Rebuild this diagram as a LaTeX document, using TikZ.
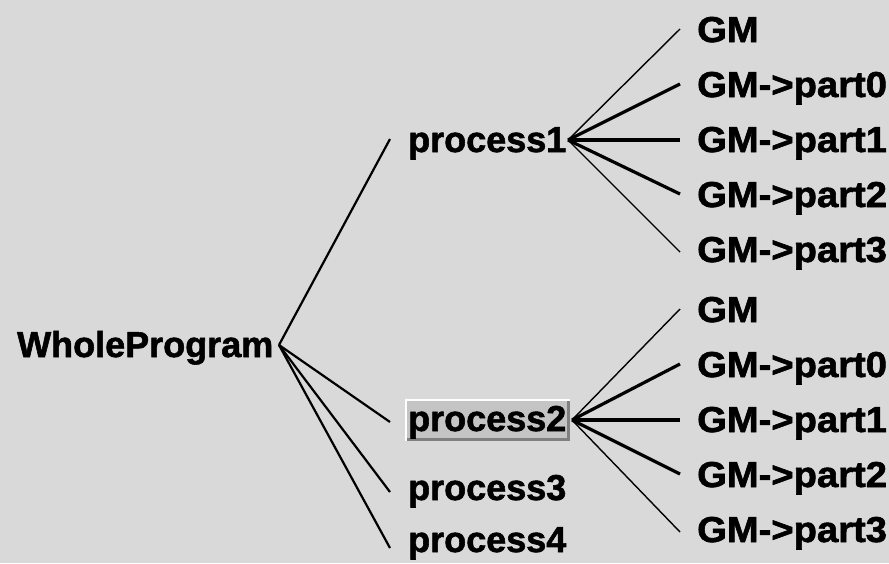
\documentclass[tikz,border=0pt]{standalone}
\usepackage{fontspec}
\setmainfont{Liberation Sans}
\newfontfamily\treefont{Liberation Sans Bold}[FakeBold=1.6]
\definecolor{bg}{RGB}{217,217,217}
\definecolor{selfill}{RGB}{196,196,196}
\definecolor{selshade}{RGB}{128,128,128}
\newcommand\leafwide[1]{\scalebox{1.06}[1]{#1}}
\begin{document}
\begin{tikzpicture}[x=1pt,y=-1pt,
  lbl/.style={anchor=base west, inner sep=0pt, font=\fontsize{36}{40}\treefont},
  leaf/.style={lbl},
  link/.style={line width=2.2pt},
  thinlink/.style={line width=1.4pt},
  thicklink/.style={line width=3.2pt}]
\fill[bg] (0,0) rectangle (889,563);
\useasboundingbox (0,0) rectangle (889,563);

% selection frame behind process2
\fill[white] (405,399) rectangle (570,441);
\fill[selshade] (407,401) rectangle (570,441);
\fill[selfill] (407,401) rectangle (567,438);

% tree nodes
\node[lbl] (wp) at (17,357) {WholeProgram};
\node[lbl] (p1) at (408,152) {process1};
\node[lbl] (p2) at (408,431) {process2};
\node[lbl] (p3) at (408,500) {process3};
\node[lbl] (p4) at (408,552) {process4};

\node[leaf] (a0) at (697,42)  {\leafwide{GM}};
\node[leaf] (a1) at (697,97)  {\leafwide{GM->part0}};
\node[leaf] (a2) at (697,152) {\leafwide{GM->part1}};
\node[leaf] (a3) at (697,207) {\leafwide{GM->part2}};
\node[leaf] (a4) at (697,262) {\leafwide{GM->part3}};

\node[leaf] (b0) at (697,322) {\leafwide{GM}};
\node[leaf] (b1) at (697,377) {\leafwide{GM->part0}};
\node[leaf] (b2) at (697,432) {\leafwide{GM->part1}};
\node[leaf] (b3) at (697,487) {\leafwide{GM->part2}};
\node[leaf] (b4) at (697,542) {\leafwide{GM->part3}};

% branching points
\coordinate (wpj) at (279,345);
\coordinate (j1) at (568,140);
\coordinate (j2) at (572,420);

% connectors from the root
\draw[link] (wpj) -- ([xshift=-18pt,yshift=13pt]p1.base west);
\draw[link] (wpj) -- ([xshift=-18pt,yshift=9pt]p2.base west);
\draw[link] (wpj) -- ([xshift=-18pt,yshift=8pt]p3.base west);
\draw[link] (wpj) -- ([xshift=-18pt,yshift=4pt]p4.base west);

% connectors of process1
\draw[thinlink]  (j1) -- ([xshift=-17pt,yshift=13pt]a0.base west);
\draw[thicklink] (j1) -- ([xshift=-17pt,yshift=13pt]a1.base west);
\draw[thicklink] (j1) -- ([xshift=-17pt,yshift=12pt]a2.base west);
\draw[thicklink] (j1) -- ([xshift=-17pt,yshift=13pt]a3.base west);
\draw[thinlink]  (j1) -- ([xshift=-17pt,yshift=10pt]a4.base west);

% connectors of process2
\draw[thinlink]  (j2) -- ([xshift=-17pt,yshift=13pt]b0.base west);
\draw[thicklink] (j2) -- ([xshift=-17pt,yshift=13pt]b1.base west);
\draw[thicklink] (j2) -- ([xshift=-17pt,yshift=12pt]b2.base west);
\draw[thicklink] (j2) -- ([xshift=-17pt,yshift=13pt]b3.base west);
\draw[thinlink]  (j2) -- ([xshift=-17pt,yshift=10pt]b4.base west);
\end{tikzpicture}
\end{document}
